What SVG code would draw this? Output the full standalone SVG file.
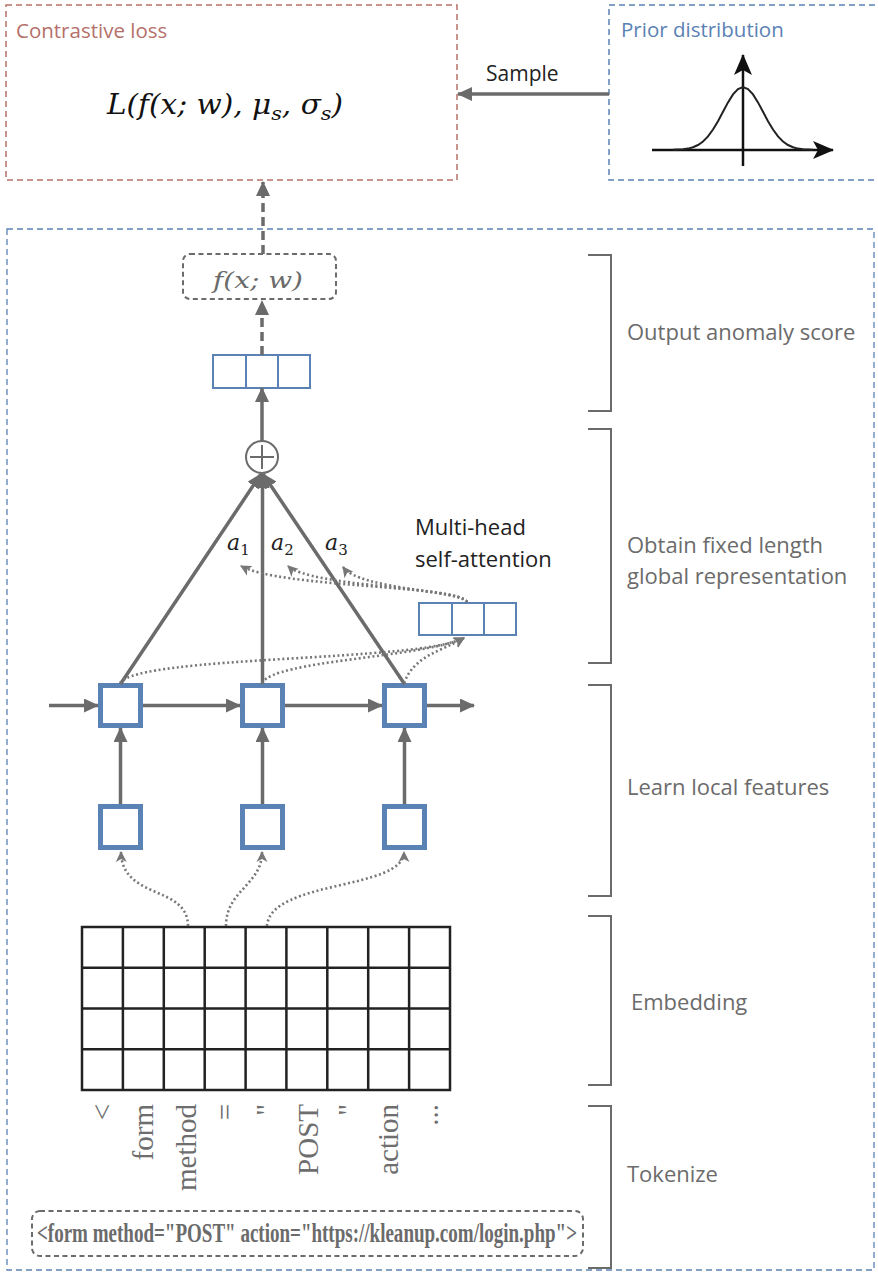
<svg xmlns="http://www.w3.org/2000/svg" width="878" height="1273" viewBox="0 0 878 1273">
  <style>
    .sans { font-family: "Open Sans", "Noto Sans", "Liberation Sans", sans-serif; }
    .math { font-family: "DejaVu Serif", "Liberation Serif", serif; font-style: italic; }
    .sub { font-style: normal; }
    .lbl { font-family: "Open Sans", "Noto Sans", "Liberation Sans", sans-serif; font-size: 22px; fill: #6b6b6b; }
    .tok { font-family: "Liberation Serif", "DejaVu Serif", serif; font-size: 29px; fill: #6e6e6e; }
    .bracket { fill: none; stroke: #6b6b6b; stroke-width: 2; }
    .solid { fill: none; stroke: #6b6b6b; stroke-width: 3.5; }
    .dash { fill: none; stroke: #6b6b6b; stroke-width: 3.5; stroke-dasharray: 9 5; }
    .dot { fill: none; stroke: #777; stroke-width: 2.6; stroke-dasharray: 2 2.6; }
    .vec { fill: #fff; stroke: #5b82b4; stroke-width: 2; }
    .cell { fill: #fff; stroke: #5b82b4; stroke-width: 5; }
    .grid { fill: none; stroke: #222; stroke-width: 2.5; }
  </style>
  <defs>
    <marker id="ah" markerUnits="userSpaceOnUse" markerWidth="16" markerHeight="14" refX="14" refY="7" orient="auto">
      <path d="M0,0 L15,7 L0,14 z" fill="#6b6b6b"/>
    </marker>
    <marker id="ahs" markerUnits="userSpaceOnUse" markerWidth="12" markerHeight="12" refX="10" refY="6" orient="auto">
      <path d="M0,0.5 L11,6 L0,11.5 L3,6 z" fill="#777"/>
    </marker>
    <marker id="ahk" markerUnits="userSpaceOnUse" markerWidth="22" markerHeight="18" refX="20" refY="9" orient="auto">
      <path d="M0,0 L21,9 L0,18 L5,9 z" fill="#111"/>
    </marker>
  </defs>

  <!-- loss block -->
  <g id="contrastive-loss">
    <rect x="6" y="5" width="451" height="175" fill="none" stroke="#b9716a" stroke-width="1.5" stroke-dasharray="6 4"/>
    <text x="16" y="38" class="sans" font-size="20.5" fill="#b5706a">Contrastive loss</text>
    <text x="225" y="114" class="math" font-size="27" fill="#111" text-anchor="middle" textLength="236" lengthAdjust="spacingAndGlyphs">L(f(x; w), μ<tspan font-size="19" dy="6">s</tspan><tspan dy="-6">, σ</tspan><tspan font-size="19" dy="6">s</tspan><tspan dy="-6">)</tspan></text>
  </g>

  <!-- prior block -->
  <g id="prior-distribution">
    <rect x="609" y="5" width="280" height="175" fill="none" stroke="#5b82b4" stroke-width="1.5" stroke-dasharray="6 4"/>
    <text x="621" y="37" class="sans" font-size="20.5" fill="#5b82b4">Prior distribution</text>
    <line x1="652" y1="150" x2="833" y2="150" stroke="#111" stroke-width="2.5" marker-end="url(#ahk)"/>
    <line x1="743" y1="166" x2="743" y2="55" stroke="#111" stroke-width="2.5" marker-end="url(#ahk)"/>
    <polyline fill="none" stroke="#222" stroke-width="2" points="673,149.85 683,149.3 688,148.6 693,147.2 698,145 703,141.5 708,136.4 713,129.5 718,121.2 723,111.8 728,102.4 733,94.4 738,89 743,87 748,89 753,94.4 758,102.4 763,111.8 768,121.2 773,129.5 778,136.4 783,141.5 788,145 793,147.2 798,148.6 803,149.3 813,149.85"/>
  </g>

  <!-- model frame -->
  <g id="model-frame">
    <rect x="7" y="229" width="867" height="1041" fill="none" stroke="#5b82b4" stroke-width="1.3" stroke-dasharray="6 4"/>
  </g>

  <g id="score-node">
    <rect x="183" y="254" width="153" height="45" rx="7" fill="none" stroke="#6b6b6b" stroke-width="2" stroke-dasharray="5 3.5"/>
    <text x="258" y="288" class="math" font-size="23" fill="#6b6b6b" text-anchor="middle" textLength="90" lengthAdjust="spacingAndGlyphs">f(x; w)</text>
  </g>

  <g id="output-vector">
    <rect x="213" y="355" width="97" height="33" class="vec"/>
    <line x1="246" y1="355" x2="246" y2="388" class="vec"/>
    <line x1="278" y1="355" x2="278" y2="388" class="vec"/>
  </g>

  <g id="sum-node">
    <circle cx="262" cy="457" r="16" fill="#fff" stroke="#6b6b6b" stroke-width="2"/>
    <line x1="250" y1="457" x2="274" y2="457" stroke="#6b6b6b" stroke-width="2"/>
    <line x1="262" y1="445" x2="262" y2="469" stroke="#6b6b6b" stroke-width="2"/>
  </g>

  <g id="attention-vector">
    <rect x="419" y="603" width="97" height="32" class="vec"/>
    <line x1="452" y1="603" x2="452" y2="635" class="vec"/>
    <line x1="484" y1="603" x2="484" y2="635" class="vec"/>
    <text x="415" y="535" class="sans" font-size="22" fill="#222">Multi-head</text>
    <text x="415" y="567" class="sans" font-size="22" fill="#222">self-attention</text>
  </g>

  <g id="weights">
    <text x="227" y="550" class="math" font-size="22" fill="#222">a<tspan class="sub" font-size="15" dy="5">1</tspan></text>
    <text x="271" y="550" class="math" font-size="22" fill="#222">a<tspan class="sub" font-size="15" dy="5">2</tspan></text>
    <text x="325" y="550" class="math" font-size="22" fill="#222">a<tspan class="sub" font-size="15" dy="5">3</tspan></text>
  </g>

  <g id="recurrent-cells">
    <rect x="100.5" y="685.5" width="40" height="40" class="cell"/>
    <rect x="242.5" y="685.5" width="40" height="40" class="cell"/>
    <rect x="384.5" y="685.5" width="40" height="40" class="cell"/>
  </g>

  <g id="conv-cells">
    <rect x="100.5" y="806.5" width="40" height="41" class="cell"/>
    <rect x="242.5" y="806.5" width="40" height="41" class="cell"/>
    <rect x="384.5" y="806.5" width="40" height="41" class="cell"/>
  </g>

  <g id="embedding-grid">
    <rect x="82" y="927" width="368" height="163" class="grid"/>
    <path class="grid" d="M122.9,927V1090 M163.8,927V1090 M204.7,927V1090 M245.6,927V1090 M286.4,927V1090 M327.3,927V1090 M368.2,927V1090 M409.1,927V1090 M82,967.75H450 M82,1008.5H450 M82,1049.25H450"/>
  </g>

  <g id="tokens">
    <text class="tok" transform="translate(112,1104) rotate(-90)" text-anchor="end">&lt;</text>
    <text class="tok" transform="translate(153,1104) rotate(-90)" text-anchor="end">form</text>
    <text class="tok" transform="translate(196,1104) rotate(-90)" text-anchor="end">method</text>
    <text class="tok" transform="translate(235,1104) rotate(-90)" text-anchor="end">=</text>
    <text class="tok" transform="translate(276,1104) rotate(-90)" text-anchor="end">"</text>
    <text class="tok" transform="translate(318,1104) rotate(-90)" text-anchor="end">POST</text>
    <text class="tok" transform="translate(358,1104) rotate(-90)" text-anchor="end">"</text>
    <text class="tok" transform="translate(398,1104) rotate(-90)" text-anchor="end">action</text>
    <text class="tok" transform="translate(438,1104) rotate(-90)" text-anchor="end">...</text>
  </g>

  <g id="raw-input">
    <rect x="32" y="1211" width="551" height="45" rx="8" fill="none" stroke="#6b6b6b" stroke-width="2" stroke-dasharray="5 3.5"/>
    <text x="37" y="1242" font-family="Liberation Serif, DejaVu Serif, serif" font-size="28" font-weight="bold" fill="#6b6b6b" textLength="540" lengthAdjust="spacingAndGlyphs">&lt;form method="POST" action="https://kleanup.com/login.php"&gt;</text>
  </g>

  <!-- stage brackets and captions -->
  <g id="stage-labels">
    <path class="bracket" d="M588,255H611V411H588"/>
    <text x="627" y="340" class="lbl">Output anomaly score</text>
    <path class="bracket" d="M588,429H611V663H588"/>
    <text x="627" y="553" class="lbl">Obtain fixed length</text>
    <text x="627" y="584" class="lbl">global representation</text>
    <path class="bracket" d="M588,685H611V896H588"/>
    <text x="627" y="795" class="lbl">Learn local features</text>
    <path class="bracket" d="M588,916H611V1085H588"/>
    <text x="631" y="1010" class="lbl">Embedding</text>
    <path class="bracket" d="M588,1106H611V1268H588"/>
    <text x="627" y="1182" class="lbl">Tokenize</text>
  </g>

  <g id="connectors">
    <!-- sampling from the prior -->
    <line x1="609" y1="94" x2="458" y2="94" class="solid" marker-end="url(#ah)"/>
    <text x="486" y="81" class="sans" font-size="21" fill="#222">Sample</text>
    <!-- score to loss, vector to score -->
    <line x1="263" y1="254" x2="263" y2="182" class="dash" marker-end="url(#ah)"/>
    <line x1="262" y1="355" x2="262" y2="301" class="dash" marker-end="url(#ah)"/>
    <line x1="262" y1="441" x2="262" y2="388" class="solid" marker-end="url(#ah)"/>
    <!-- weighted hidden states into the sum -->
    <line x1="120.5" y1="684" x2="261" y2="474" class="solid" marker-end="url(#ah)"/>
    <line x1="262.5" y1="684" x2="262.5" y2="474" class="solid" marker-end="url(#ah)"/>
    <line x1="404.5" y1="684" x2="263" y2="474" class="solid" marker-end="url(#ah)"/>
    <!-- recurrent chain -->
    <line x1="49" y1="705.5" x2="98" y2="705.5" class="solid" marker-end="url(#ah)"/>
    <line x1="143" y1="705.5" x2="240" y2="705.5" class="solid" marker-end="url(#ah)"/>
    <line x1="285" y1="705.5" x2="382" y2="705.5" class="solid" marker-end="url(#ah)"/>
    <line x1="427" y1="705.5" x2="474" y2="705.5" class="solid" marker-end="url(#ah)"/>
    <!-- local features into the recurrent cells -->
    <line x1="120.5" y1="804" x2="120.5" y2="728" class="solid" marker-end="url(#ah)"/>
    <line x1="262.5" y1="804" x2="262.5" y2="728" class="solid" marker-end="url(#ah)"/>
    <line x1="404.5" y1="804" x2="404.5" y2="728" class="solid" marker-end="url(#ah)"/>
    <!-- embedding windows -->
    <path class="dot" d="M188,926 C188,885 122,900 121,852" marker-end="url(#ahs)"/>
    <path class="dot" d="M226,926 C226,890 262,885 262,852" marker-end="url(#ahs)"/>
    <path class="dot" d="M267,926 C270,880 404,890 404,852" marker-end="url(#ahs)"/>
    <!-- hidden states into attention -->
    <path class="dot" d="M120,683 C140,655 420,662 464,638" marker-end="url(#ahs)"/>
    <path class="dot" d="M262,683 C275,660 420,658 464,638" marker-end="url(#ahs)"/>
    <path class="dot" d="M404,683 C415,655 440,652 464,638" marker-end="url(#ahs)"/>
    <!-- attention weights -->
    <path class="dot" d="M467,602 C460,585 280,588 241,566" marker-end="url(#ahs)"/>
    <path class="dot" d="M467,602 C460,587 310,587 288,566" marker-end="url(#ahs)"/>
    <path class="dot" d="M467,602 C460,590 360,590 343,567" marker-end="url(#ahs)"/>
  </g>
</svg>
